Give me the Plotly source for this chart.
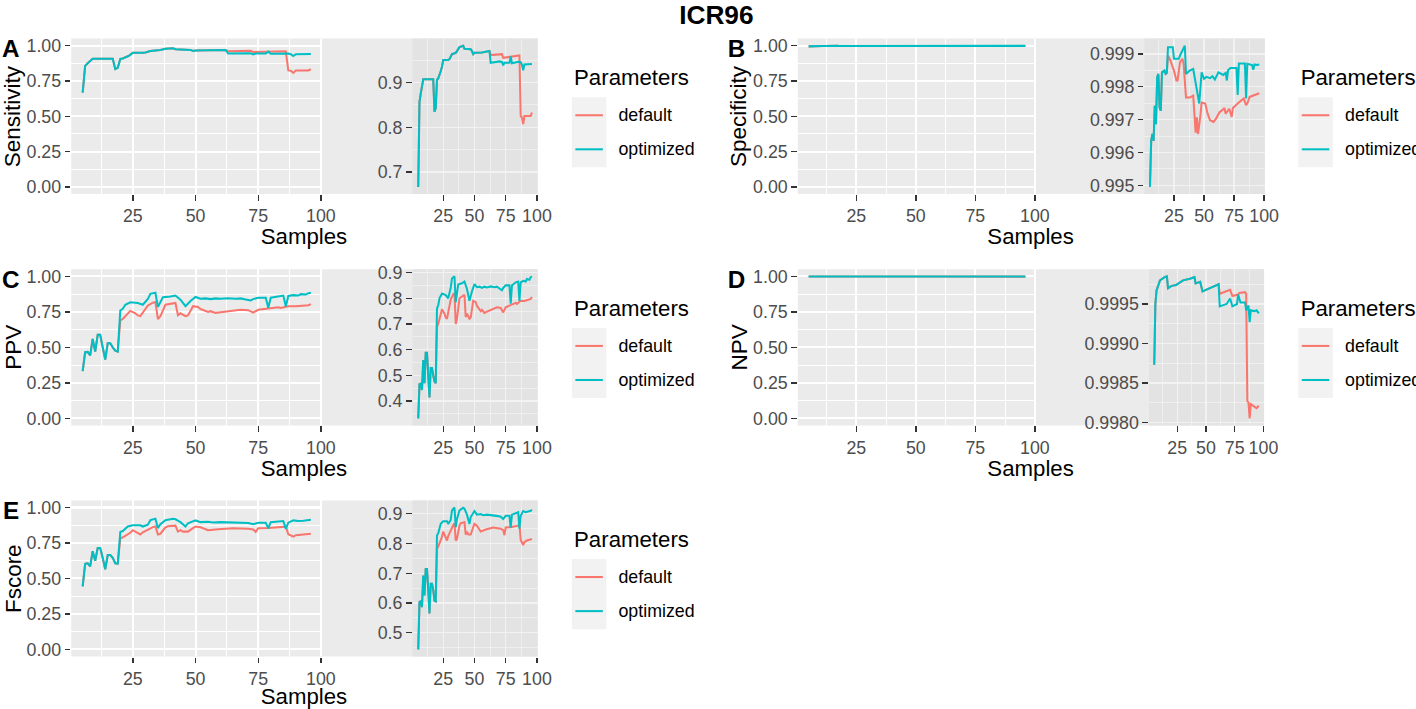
import plotly.graph_objects as go

W, H = 1416, 709
RED, TEAL = "#F8766D", "#00BFC4"
FONT = "Liberation Sans, Arial, sans-serif"

sample_ticks = [25, 50, 75, 100]
sample_minor = [12.5, 37.5, 62.5, 87.5]
main_y_ticks = [0.0, 0.25, 0.5, 0.75, 1.0]
main_y_text = ["0.00", "0.25", "0.50", "0.75", "1.00"]
main_y_minor = [0.125, 0.375, 0.625, 0.875]
series_names = ["default", "optimized"]

# ---------------- A: Sensitivity ----------------
sens_shared_x = [5, 6, 7, 9, 17, 18, 19, 20, 21, 22, 23, 24, 25, 29, 30, 32, 35, 36, 38, 41, 42, 47, 48, 49, 50, 56, 62]
sens_shared_y = [0.667, 0.857, 0.875, 0.907, 0.907, 0.835, 0.843, 0.906, 0.909, 0.915, 0.925, 0.935, 0.950, 0.950,
                 0.952, 0.963, 0.966, 0.970, 0.979, 0.982, 0.975, 0.974, 0.970, 0.963, 0.966, 0.967, 0.970]
sens_opt_x = [63, 70, 72, 73, 74, 78, 79, 80, 85, 87, 88, 89, 90, 96]
sens_opt_y = [0.944, 0.947, 0.946, 0.938, 0.944, 0.944, 0.958, 0.943, 0.946, 0.945, 0.940, 0.927, 0.940, 0.941]
sens_def_x = [63, 72, 73, 86, 87, 88, 89, 90, 95, 96]
sens_def_y = [0.961, 0.963, 0.955, 0.960, 0.825, 0.822, 0.807, 0.825, 0.825, 0.833]

# ---------------- B: Specificity ----------------
spec_shared_x = [5, 6, 7, 8, 9, 10, 11, 12, 13, 14, 15, 17, 18, 19]
spec_shared_y = [0.99495, 0.99635, 0.99656, 0.99635, 0.99742, 0.99686, 0.99829, 0.99839, 0.99737, 0.99727,
                 0.99844, 0.99849, 0.99839, 0.99842]
spec_opt_x = [20, 24, 25, 29, 30, 34, 35, 38, 41, 44, 46, 48, 50, 52, 55, 57, 59, 62, 64, 66, 68, 69, 70, 72,
              77, 78, 79, 84, 85, 86, 90, 91, 92, 94, 96]
spec_opt_y = [0.99920, 0.99920, 0.99885, 0.99885, 0.99895, 0.99925, 0.99839, 0.99849, 0.99854, 0.99788, 0.99749,
              0.99844, 0.99824, 0.99830, 0.99826, 0.99832, 0.99822, 0.99844, 0.99840, 0.99836, 0.99842, 0.99819,
              0.99850, 0.99857, 0.99857, 0.99775, 0.99871, 0.99871, 0.99764, 0.99870, 0.99866, 0.99852, 0.99868,
              0.99866, 0.99868]
spec_def_x = [20, 22, 25, 27, 28, 30, 32, 33, 35, 38, 41, 42, 43, 44, 45, 47, 48, 51, 53, 55, 58, 60, 62, 63, 65,
              67, 68, 69, 71, 73, 74, 78, 81, 83, 85, 86, 88, 92, 96]
spec_def_y = [0.99895, 0.99880, 0.99849, 0.99819, 0.99819, 0.99875, 0.99885, 0.99870, 0.99767, 0.99767, 0.99773,
              0.99696, 0.99660, 0.99707, 0.99656, 0.99713, 0.99752, 0.99749, 0.99718, 0.99698, 0.99693, 0.99703,
              0.99718, 0.99723, 0.99728, 0.99735, 0.99718, 0.99722, 0.99733, 0.99708, 0.99735, 0.99749, 0.99759,
              0.99764, 0.99744, 0.99749, 0.99769, 0.99775, 0.99780]

# ---------------- C: PPV ----------------
ppv_shared_x = [5, 6, 7, 8, 9, 10, 11, 12, 13, 14, 15, 16, 17, 18, 19]
ppv_shared_y = [0.333, 0.466, 0.468, 0.443, 0.560, 0.470, 0.588, 0.588, 0.500, 0.414, 0.529, 0.529, 0.500, 0.477, 0.470]
ppv_opt_x = [20, 21, 22, 24, 27, 29, 31, 32, 33, 34, 35, 36, 37, 40, 42, 44, 46, 48, 50, 52, 54, 56, 58, 60, 63,
             66, 68, 70, 72, 73, 75, 78, 79, 80, 83, 85, 86, 87, 89, 91, 92, 94, 95, 96]
ppv_opt_y = [0.760, 0.772, 0.800, 0.818, 0.812, 0.800, 0.841, 0.877, 0.881, 0.885, 0.785, 0.818, 0.853, 0.858,
             0.865, 0.836, 0.790, 0.827, 0.855, 0.843, 0.845, 0.840, 0.845, 0.842, 0.846, 0.843, 0.845, 0.838,
             0.831, 0.840, 0.850, 0.850, 0.779, 0.850, 0.862, 0.865, 0.790, 0.862, 0.868, 0.865, 0.875, 0.872,
             0.882, 0.885]
ppv_def_x = [20, 21, 23, 24, 26, 27, 28, 29, 31, 33, 34, 35, 36, 38, 41, 42, 43, 44, 46, 47, 49, 51, 52, 55, 56,
             58, 60, 64, 68, 71, 73, 75, 79, 83, 84, 86, 87, 90, 93, 95, 96]
ppv_def_y = [0.690, 0.700, 0.740, 0.757, 0.740, 0.725, 0.720, 0.745, 0.795, 0.815, 0.820, 0.700, 0.720, 0.800,
             0.808, 0.813, 0.727, 0.740, 0.720, 0.725, 0.790, 0.785, 0.770, 0.750, 0.755, 0.743, 0.748, 0.758,
             0.765, 0.762, 0.745, 0.765, 0.775, 0.782, 0.778, 0.786, 0.790, 0.789, 0.795, 0.797, 0.805]

# ---------------- D: NPV ----------------
npv_shared_x = [5, 6, 7, 10, 14, 16, 17, 20, 24, 30, 36, 40, 41, 45, 47, 50, 55, 59, 61]
npv_shared_y = [0.99873, 0.99950, 0.99967, 0.99980, 0.99984, 0.99985, 0.99970, 0.99973, 0.99974, 0.99980,
                0.99982, 0.99984, 0.99976, 0.99978, 0.99966, 0.99968, 0.99971, 0.99974, 0.99975]
npv_opt_x = [62, 68, 71, 73, 77, 78, 80, 84, 85, 87, 88, 89, 92, 94, 96]
npv_opt_y = [0.99947, 0.99950, 0.99957, 0.99947, 0.99950, 0.99962, 0.99952, 0.99952, 0.99942, 0.99948, 0.99927,
             0.99942, 0.99941, 0.99942, 0.99938]
npv_def_x = [62, 71, 73, 78, 79, 84, 85, 86, 87, 88, 89, 92, 94, 96]
npv_def_y = [0.99963, 0.99968, 0.99960, 0.99962, 0.99964, 0.99965, 0.99963, 0.99827, 0.99825, 0.99805, 0.99823,
             0.99820, 0.99818, 0.99821]

# ---------------- E: Fscore ----------------
f_shared_x = [5, 6, 7, 8, 9, 10, 11, 12, 13, 14, 15, 16, 17, 18, 19]
f_shared_y = [0.444, 0.603, 0.607, 0.586, 0.692, 0.625, 0.714, 0.714, 0.645, 0.565, 0.665, 0.665, 0.645, 0.607, 0.605]
f_opt_x = [20, 21, 23, 25, 28, 29, 31, 32, 34, 35, 36, 38, 41, 42, 44, 46, 47, 50, 52, 55, 57, 60, 63, 66, 69,
           71, 73, 75, 78, 79, 80, 85, 86, 87, 89, 91, 93, 95, 96]
f_opt_y = [0.827, 0.834, 0.866, 0.875, 0.875, 0.866, 0.879, 0.911, 0.921, 0.855, 0.882, 0.911, 0.920, 0.917,
           0.897, 0.866, 0.889, 0.909, 0.897, 0.899, 0.895, 0.897, 0.896, 0.893, 0.892, 0.890, 0.882, 0.893,
           0.893, 0.853, 0.897, 0.905, 0.850, 0.893, 0.909, 0.905, 0.907, 0.910, 0.913]
f_def_x = [20, 21, 24, 25, 28, 29, 31, 33, 34, 35, 36, 38, 39, 42, 43, 44, 45, 47, 49, 50, 52, 54, 55, 59, 65,
           71, 73, 74, 75, 79, 85, 86, 87, 89, 90, 92, 96]
f_def_y = [0.782, 0.790, 0.822, 0.840, 0.810, 0.825, 0.845, 0.862, 0.868, 0.810, 0.815, 0.860, 0.868, 0.872,
           0.830, 0.840, 0.830, 0.830, 0.855, 0.866, 0.860, 0.848, 0.840, 0.847, 0.854, 0.850, 0.845, 0.828,
           0.854, 0.855, 0.860, 0.865, 0.812, 0.795, 0.805, 0.810, 0.815]

# inset tick settings
sens_ticks = [0.7, 0.8, 0.9]
sens_ticktext = ["0.7", "0.8", "0.9"]
sens_minor = [0.65, 0.75, 0.85, 0.95]
spec_ticks = [0.995, 0.996, 0.997, 0.998, 0.999]
spec_ticktext = ["0.995", "0.996", "0.997", "0.998", "0.999"]
spec_minor = [0.9945, 0.9955, 0.9965, 0.9975, 0.9985, 0.9995]
ppv_ticks = [0.4, 0.5, 0.6, 0.7, 0.8, 0.9]
ppv_ticktext = ["0.4", "0.5", "0.6", "0.7", "0.8", "0.9"]
ppv_minor = [0.35, 0.45, 0.55, 0.65, 0.75, 0.85, 0.95]
npv_ticks = [0.998, 0.9985, 0.999, 0.9995]
npv_ticktext = ["0.9980", "0.9985", "0.9990", "0.9995"]
npv_minor = [0.99775, 0.99825, 0.99875, 0.99925, 0.99975]
f_ticks = [0.5, 0.6, 0.7, 0.8, 0.9]
f_ticktext = ["0.5", "0.6", "0.7", "0.8", "0.9"]
f_minor = [0.45, 0.55, 0.65, 0.75, 0.85, 0.95]


def fx(p):
    return p / W


def fy(p):
    return 1 - p / H


def expand(vals, mult=0.05):
    lo, hi = min(vals), max(vals)
    d = (hi - lo) * mult
    return [lo - d, hi + d]


ROWS = [(38.65, 193.75), (268.9, 424.8), (499.6, 655.4)]
SAMPLES_OFFSET = [42.5, 42.5, 40.0]
LEFT = dict(main=(71.2, 322.1), legend=571.5, ytitle=13, letter=11)
RIGHT = dict(main=(797.3, 1035.6), legend=1297.5, ytitle=738, letter=736)

metrics = [
    dict(letter="A", title="Sensitivity", row=0, col=LEFT, inset=(412.3, 537.3),
         shared=(sens_shared_x, sens_shared_y), opt=(sens_opt_x, sens_opt_y), dflt=(sens_def_x, sens_def_y),
         ticks=(sens_ticks, sens_ticktext, sens_minor)),
    dict(letter="B", title="Specificity", row=0, col=RIGHT, inset=(1143.8, 1264.0),
         shared=(spec_shared_x, spec_shared_y), opt=(spec_opt_x, spec_opt_y), dflt=(spec_def_x, spec_def_y),
         ticks=(spec_ticks, spec_ticktext, spec_minor)),
    dict(letter="C", title="PPV", row=1, col=LEFT, inset=(412.3, 537.3),
         shared=(ppv_shared_x, ppv_shared_y), opt=(ppv_opt_x, ppv_opt_y), dflt=(ppv_def_x, ppv_def_y),
         ticks=(ppv_ticks, ppv_ticktext, ppv_minor)),
    dict(letter="D", title="NPV", row=1, col=RIGHT, inset=(1148.3, 1263.3),
         shared=(npv_shared_x, npv_shared_y), opt=(npv_opt_x, npv_opt_y), dflt=(npv_def_x, npv_def_y),
         ticks=(npv_ticks, npv_ticktext, npv_minor)),
    dict(letter="E", title="Fscore", row=2, col=LEFT, inset=(412.3, 537.3),
         shared=(f_shared_x, f_shared_y), opt=(f_opt_x, f_opt_y), dflt=(f_def_x, f_def_y),
         ticks=(f_ticks, f_ticktext, f_minor)),
]

fig = go.Figure()
layout = dict(
    width=W, height=H, autosize=False, margin=dict(l=0, r=0, t=0, b=0),
    paper_bgcolor="white", plot_bgcolor="rgba(0,0,0,0)",
    showlegend=False, font=dict(family=FONT),
)
shapes = []
annotations = []

tickfont = dict(family=FONT, size=17.6, color="#4D4D4D")

for i, m in enumerate(metrics):
    top, bot = ROWS[m["row"]]
    col = m["col"]
    mL, mR = col["main"]
    iL, iR = m["inset"]
    sx, sy = m["shared"]
    ox, oy = m["opt"]
    dx, dy = m["dflt"]
    def_x, def_y = sx + dx, sy + dy
    opt_x, opt_y = sx + ox, sy + oy
    xr = expand(def_x + opt_x)
    yr_inset = expand(def_y + opt_y)
    a_main, a_ins = 2 * i + 1, 2 * i + 2
    nm = lambda k: "" if k == 1 else str(k)

    shapes.append(dict(type="rect", xref="paper", yref="paper", x0=fx(mL), x1=fx(iR), y0=fy(bot), y1=fy(top),
                       fillcolor="#EBEBEB", line=dict(width=0), layer="below"))
    shapes.append(dict(type="rect", xref="paper", yref="paper", x0=fx(iL), x1=fx(iR), y0=fy(bot), y1=fy(top),
                       fillcolor="#E3E3E3", line=dict(width=0), layer="below"))

    common_x = dict(range=xr, tickmode="array", tickvals=sample_ticks, ticktext=[str(t) for t in sample_ticks],
                    ticks="outside", ticklen=5.5, tickwidth=1.4, tickcolor="#333333", tickfont=tickfont,
                    zeroline=False, showline=False, fixedrange=True)
    layout["xaxis" + nm(a_main)] = dict(
        common_x, domain=[fx(mL), fx(mR)], anchor="y" + nm(a_main),
        showgrid=True, gridcolor="white", gridwidth=2,
        minor=dict(tickvals=sample_minor, showgrid=True, gridcolor="white", gridwidth=1, ticks=""))
    layout["yaxis" + nm(a_main)] = dict(
        range=[-0.05, 1.05], domain=[fy(bot), fy(top)], anchor="x" + nm(a_main),
        tickmode="array", tickvals=main_y_ticks, ticktext=main_y_text,
        ticks="outside", ticklen=5.5, tickwidth=1.4, tickcolor="#333333", tickfont=tickfont,
        showgrid=True, gridcolor="white", gridwidth=2, zeroline=False, showline=False, fixedrange=True,
        minor=dict(tickvals=main_y_minor, showgrid=True, gridcolor="white", gridwidth=1, ticks=""))
    tv, tt, tm = m["ticks"]
    layout["xaxis" + nm(a_ins)] = dict(
        common_x, domain=[fx(iL), fx(iR)], anchor="y" + nm(a_ins),
        showgrid=True, gridcolor="#F2F2F2", gridwidth=1.3,
        minor=dict(tickvals=sample_minor, showgrid=True, gridcolor="#F2F2F2", gridwidth=0.8, ticks=""))
    layout["yaxis" + nm(a_ins)] = dict(
        range=yr_inset, domain=[fy(bot), fy(top)], anchor="x" + nm(a_ins),
        tickmode="array", tickvals=tv, ticktext=tt,
        ticks="outside", ticklen=5.5, tickwidth=1.4, tickcolor="#333333", tickfont=tickfont,
        showgrid=True, gridcolor="#F2F2F2", gridwidth=1.3, zeroline=False, showline=False, fixedrange=True,
        minor=dict(tickvals=tm, showgrid=True, gridcolor="#F2F2F2", gridwidth=0.8, ticks=""))

    for ax in (a_main, a_ins):
        for name, xs, ys, c in (("default", def_x, def_y, RED), ("optimized", opt_x, opt_y, TEAL)):
            fig.add_trace(go.Scatter(x=xs, y=ys, mode="lines", name=name,
                                     line=dict(color=c, width=2),
                                     xaxis="x" + nm(ax), yaxis="y" + nm(ax), hoverinfo="skip"))

    annotations.append(dict(text="<b>%s</b>" % m["letter"], x=fx(col["letter"]), y=fy(top + 10),
                            xref="paper", yref="paper", showarrow=False, xanchor="center", yanchor="middle",
                            font=dict(family=FONT, size=24, color="black")))
    annotations.append(dict(text=m["title"], x=fx(col["ytitle"]), y=fy((top + bot) / 2),
                            xref="paper", yref="paper", showarrow=False, textangle=-90,
                            xanchor="center", yanchor="middle", font=dict(family=FONT, size=22, color="black")))
    annotations.append(dict(text="Samples", x=fx((mL + iR) / 2), y=fy(bot + SAMPLES_OFFSET[m["row"]]),
                            xref="paper", yref="paper", showarrow=False, xanchor="center", yanchor="middle",
                            font=dict(family=FONT, size=22, color="black")))
    lx = col["legend"]
    annotations.append(dict(text="Parameters", x=fx(lx), y=fy(top + 38.5), xref="paper", yref="paper",
                            showarrow=False, xanchor="left", yanchor="middle",
                            font=dict(family=FONT, size=22, color="black")))
    shapes.append(dict(type="rect", xref="paper", yref="paper", x0=fx(lx), x1=fx(lx + 34.5),
                       y0=fy(top + 128.5), y1=fy(top + 58.5), fillcolor="#F2F2F2", line=dict(width=0)))
    for k, (name, c) in enumerate(zip(series_names, (RED, TEAL))):
        yk = top + 76.5 + k * 34
        shapes.append(dict(type="line", xref="paper", yref="paper", x0=fx(lx + 3.5), x1=fx(lx + 31),
                           y0=fy(yk), y1=fy(yk), line=dict(color=c, width=2)))
        annotations.append(dict(text=name, x=fx(lx + 45), y=fy(yk), xref="paper", yref="paper",
                                showarrow=False, xanchor="left", yanchor="middle",
                                font=dict(family=FONT, size=17.6, color="black")))

annotations.append(dict(text="<b>ICR96</b>", x=fx(716.5), y=fy(15.5), xref="paper", yref="paper",
                        showarrow=False, xanchor="center", yanchor="middle",
                        font=dict(family=FONT, size=26, color="black")))

layout["shapes"] = shapes
layout["annotations"] = annotations
fig.update_layout(**layout)

# Page set-up: no body margins; the figure sits in a fixed 1416x709 clip box and is given a small
# counter-scale for the slight rescaling observed in the photographing step.
page_js = """
(function(){
  var r=document.documentElement.style; r.margin='0'; r.padding='0'; r.overflow='hidden';
  var b=document.body.style; b.margin='0'; b.padding='0'; b.overflow='hidden';
  var gd=document.querySelector('.plotly-graph-div');
  var p=gd.parentElement.style;
  p.position='relative'; p.width='1416px'; p.height='709px'; p.overflow='hidden';
  gd.style.transformOrigin='0 0';
  gd.style.transform='translate(0px,-7.26px) scale(1.0106,1.0220)';
})();
"""
fig.write_html("out.html", config={"staticPlot": True, "displayModeBar": False}, post_script=page_js)
